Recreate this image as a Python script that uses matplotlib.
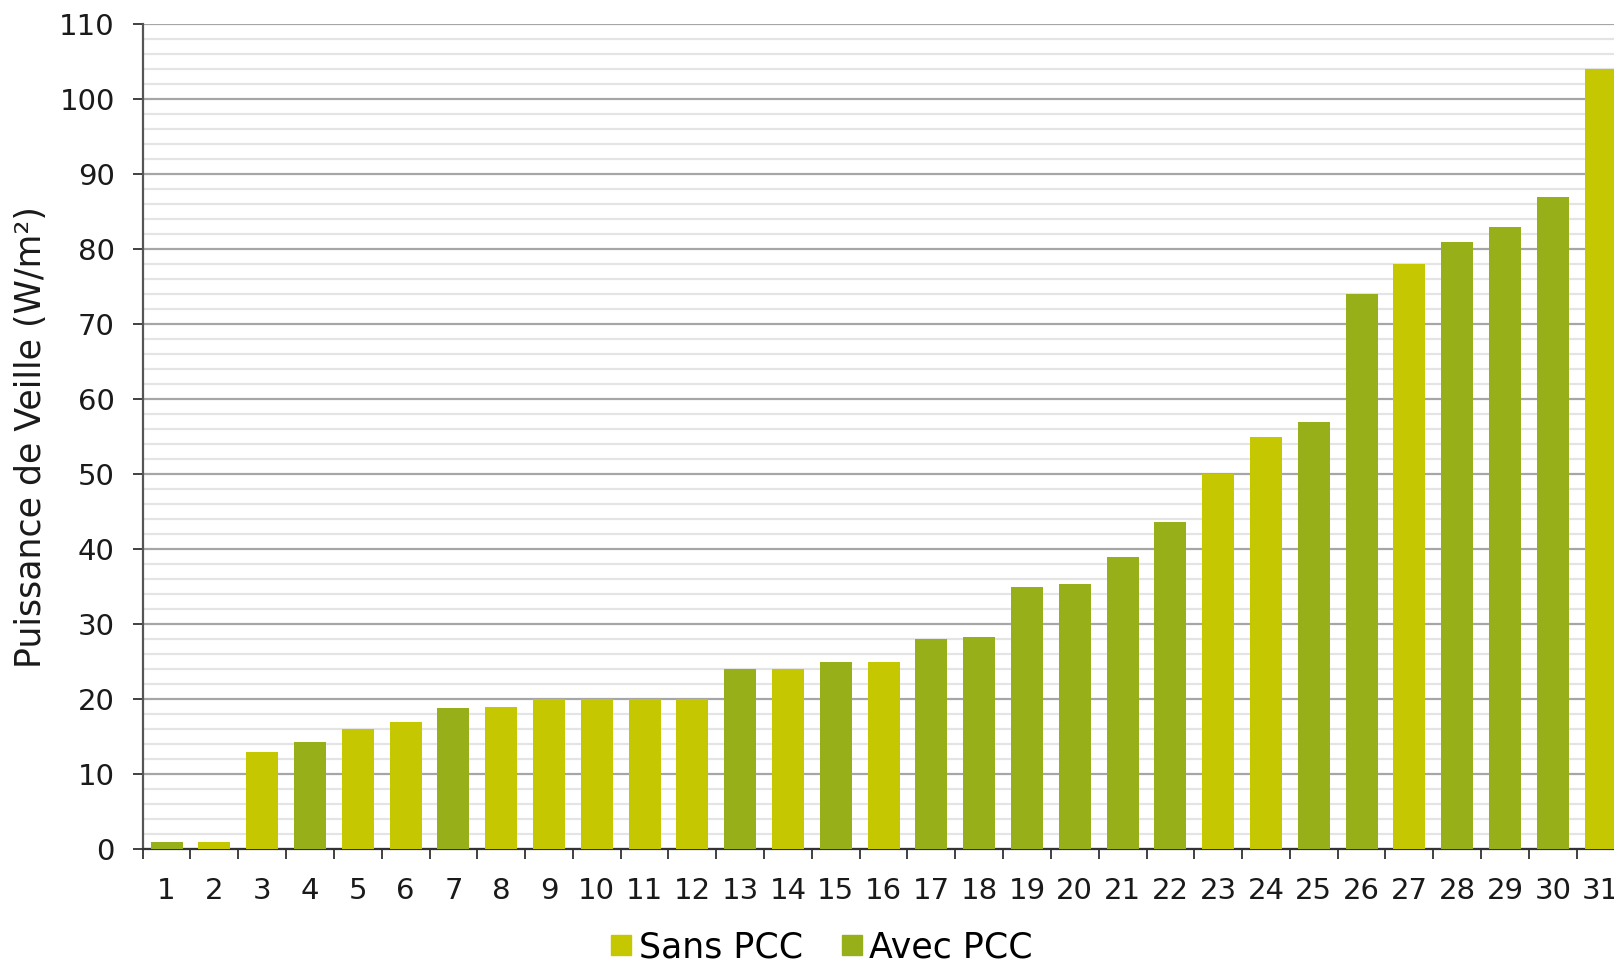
import matplotlib.pyplot as plt
from matplotlib.lines import Line2D
from matplotlib.ticker import MultipleLocator, FixedLocator, NullFormatter

plt.rcParams["font.family"] = ["DejaVu Sans"]

numeros = list(range(1, 32))
puissance = [1, 1, 13, 14.3, 16, 17, 18.8, 19, 20, 20, 20, 20, 24, 24, 25, 25,
             28, 28.3, 35, 35.4, 39, 43.6, 50, 55, 57, 74, 78, 81, 83, 87, 104]
# "S" = Sans PCC, "A" = Avec PCC
groupe = ["A", "S", "S", "A", "S", "S", "A", "S", "S", "S", "S", "S", "A", "S", "A", "S",
          "A", "A", "A", "A", "A", "A", "S", "S", "A", "A", "S", "A", "A", "A", "S"]

couleurs = {"S": "#c5c800", "A": "#97af19"}
noms = {"S": "Sans PCC", "A": "Avec PCC"}

fig = plt.figure(figsize=(16.14, 9.63), dpi=100)
# axes runs a little past the right edge, like the original (bar 31 is cut)
ax = fig.add_axes([142.7 / 1614, 1 - 849.3 / 963, 31 * 47.8 / 1614, 825.3 / 963])

ax.bar(numeros, puissance, width=0.67, color=[couleurs[g] for g in groupe], zorder=3)

ax.set_xlim(0.5, 31.5)
ax.set_ylim(0, 110)

ax.yaxis.set_major_locator(MultipleLocator(10))
ax.yaxis.set_minor_locator(MultipleLocator(2))
ax.grid(which="major", axis="y", color="#a6a6a6", linewidth=1.6, zorder=0)
ax.grid(which="minor", axis="y", color="#e4e4e4", linewidth=1.6, zorder=0)
ax.set_axisbelow(True)

# ticks between categories, labels at the centres
ax.xaxis.set_major_locator(FixedLocator([n + 0.5 for n in range(0, 32)]))
ax.xaxis.set_major_formatter(NullFormatter())
ax.xaxis.set_minor_locator(FixedLocator(numeros))
ax.set_xticklabels([str(n) for n in numeros], minor=True)

ax.tick_params(axis="x", which="major", length=7, width=1.4, color="#404040")
ax.tick_params(axis="x", which="minor", length=0, pad=20, labelsize=21, labelcolor="#1a1a1a")
ax.tick_params(axis="y", which="major", length=7, width=1.4, color="#404040",
               pad=13, labelsize=21, labelcolor="#1a1a1a")
ax.tick_params(axis="y", which="minor", length=0)

for cote in ["top", "right"]:
    ax.spines[cote].set_visible(False)
ax.spines["left"].set_color("#555555")
ax.spines["left"].set_linewidth(1.6)
ax.spines["bottom"].set_color("#333333")
ax.spines["bottom"].set_linewidth(1.6)

ax.set_ylabel("Puissance de Veille (W/m²)", fontsize=25, color="#1a1a1a", labelpad=8)

poignees = [Line2D([], [], marker="s", linestyle="none", markersize=15,
                   color=couleurs[g], label=noms[g]) for g in ["S", "A"]]
fig.legend(handles=poignees, loc="center", bbox_to_anchor=(0.507, 0.016), ncol=2,
           frameon=False, fontsize=25, handletextpad=0.0, columnspacing=0.9,
           handlelength=1.0)

fig.savefig("out.png", dpi=100)
